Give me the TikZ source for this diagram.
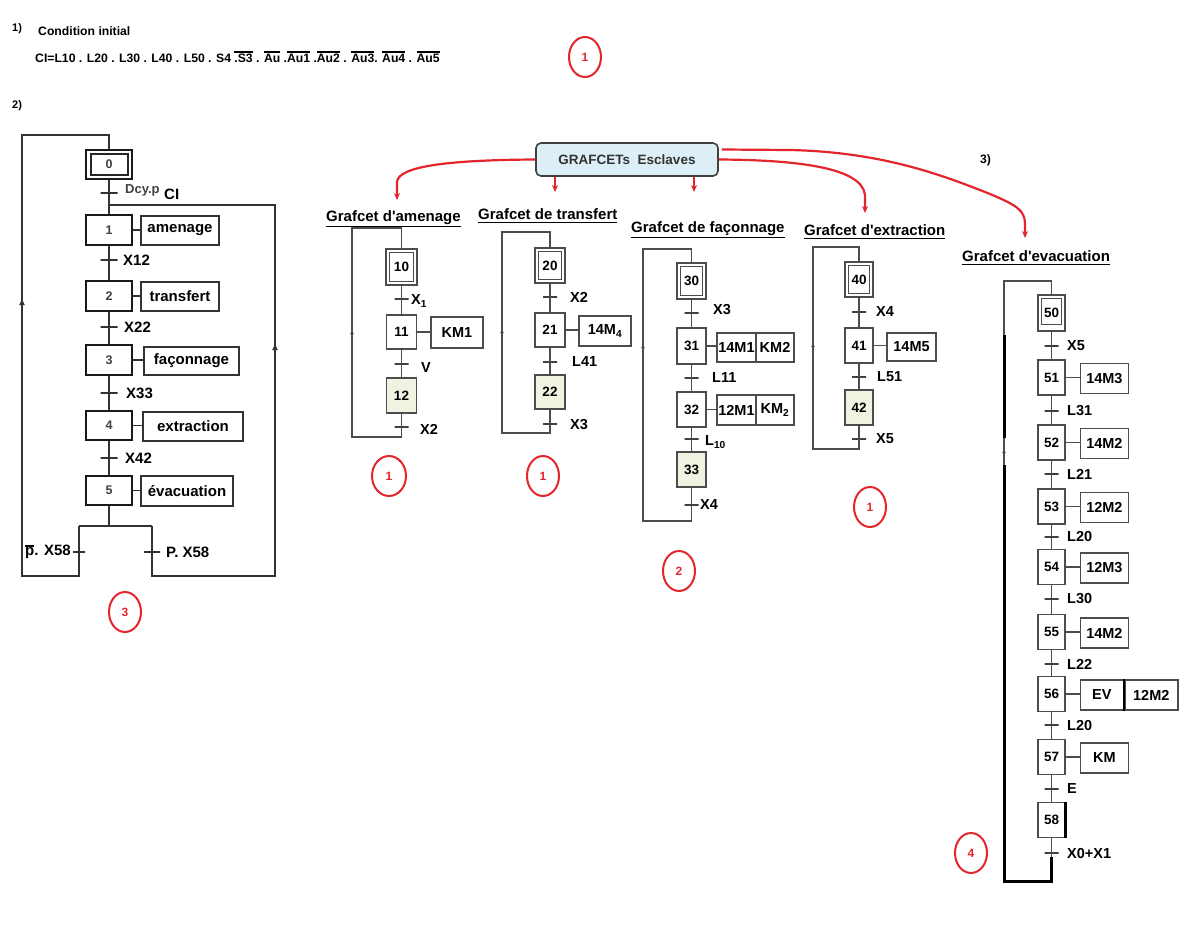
\documentclass[tikz,border=0pt]{standalone}
\usepackage{fontspec}
\setmainfont{Liberation Sans}
\usetikzlibrary{shapes.geometric,arrows.meta,calc}
\definecolor{redc}{HTML}{E3262E}
\definecolor{lgreen}{HTML}{EEF3E2}
\definecolor{lblue}{HTML}{DCEEF6}
\newcommand\ovl[1]{\leavevmode\vbox{\hrule height 1.6pt\kern1.4pt\hbox{#1}}}
\newcommand\ulin[1]{\leavevmode\vtop{\hbox{#1}\kern1.5pt\hrule height 1.3pt}}
\begin{document}
\begin{tikzpicture}[x=1pt,y=-1pt,
  txt/.style={font=\bfseries\fontsize{14.5}{16}\selectfont, inner sep=0pt},
  lbl/.style={txt, anchor=west},
  mlbl/.style={lbl, font=\bfseries\fontsize{15}{17}\selectfont},
  hlbl/.style={lbl, font=\bfseries\fontsize{12.2}{14}\selectfont},
  tlbl/.style={lbl, font=\bfseries\fontsize{15}{17}\selectfont},
  mstep/.style={draw=black!90, line width=2.2pt, fill=white, inner sep=0pt, minimum width=46pt, minimum height=30pt, font=\bfseries\fontsize{12.5}{14}\selectfont, text=black!75},
  mact/.style={draw=black!80, line width=1.4pt, fill=white, inner sep=0pt, minimum height=29pt, font=\bfseries\fontsize{15}{17}\selectfont},
  mline/.style={draw=black!80, line width=1.5pt},
  mtr/.style={draw=black!80, line width=1.5pt, rectangle, minimum width=17pt, minimum height=0pt, inner sep=0pt},
  sstep/.style={draw=black!70, line width=1.4pt, fill=white, inner sep=0pt, minimum width=30pt, minimum height=35pt, font=\bfseries\fontsize{13.5}{15}\selectfont},
  gstep/.style={sstep, fill=lgreen},
  sact/.style={draw=black!70, line width=1.4pt, fill=white, inner sep=0pt, minimum height=30pt, font=\bfseries\fontsize{14.5}{16}\selectfont},
  sline/.style={draw=black!70, line width=1.4pt},
  thick3/.style={draw=black, line width=3pt},
  str/.style={draw=black!75, line width=1.5pt, rectangle, minimum width=14pt, minimum height=0pt, inner sep=0pt},
  innerbox/.style={draw=black!70, line width=1.3pt},
  redarr/.style={draw=redc, line width=2.2pt, -{Stealth[length=7pt,width=6pt]}},
  rcirc/.style={ellipse, draw=redc, line width=2pt, minimum width=32pt, minimum height=40pt, inner sep=0pt, text=redc, font=\bfseries\fontsize{12}{14}\selectfont},
  uparr/.style={-{Latex[length=7pt,width=6pt]}},
  suparr/.style={-{Latex[length=4pt,width=4pt]}},
]
\useasboundingbox[fill=white] (0,0) rectangle (1199,926);

% ---------- header ----------
\node[hlbl, font=\bfseries\fontsize{11}{13}\selectfont] (n1) at (12,29) {1)};
\node[hlbl] (cond) at (38,31) {Condition initial};
\node[hlbl] (ci) at (35,57) {CI=L10 . L20 . L30 . L40 . L50 . S4 \ovl{.S3} . \ovl{Au} .\ovl{Au1} .\ovl{Au2} . \ovl{Au3}. \ovl{Au4} . \ovl{Au5}};
\node[rcirc] (r1) at (585,57) {1};
\node[hlbl, font=\bfseries\fontsize{11}{13}\selectfont] (n2) at (12,106) {2)};

% ---------- master grafcet ----------
\node[mstep, minimum height=29pt] (s0) at (109,164.5) {0};
\draw[innerbox, draw=black!85] ($(s0.north west)+(6,5)$) rectangle ($(s0.south east)+(-5,-5)$);
\node[mtr] (t0) at (109,193) {};
\node[lbl, text=black!75, font=\bfseries\fontsize{13}{15}\selectfont] (l0) at (125,190) {Dcy.p};
\node[mlbl] (l0b) at (164,194) {CI};
\coordinate (j1) at (109,205);
\node[mstep] (s1) at (109,230) {1};
\node[mact, minimum width=78pt] (a1) at (180,230.5) {amenage};
\node[mtr] (t1) at (109,260) {};
\node[mlbl] (l1) at (123,260) {X12};
\node[mstep] (s2) at (109,296) {2};
\node[mact, minimum width=78pt] (a2) at (180,296.5) {transfert};
\node[mtr] (t2) at (109,327) {};
\node[mlbl] (l2) at (124,327) {X22};
\node[mstep] (s3) at (109,360) {3};
\node[mact, minimum width=95pt, minimum height=28pt] (a3) at (191.5,361) {façonnage};
\node[mtr] (t3) at (109,393) {};
\node[mlbl] (l3) at (126,393) {X33};
\node[mstep, minimum height=29pt] (s4) at (109,425.5) {4};
\node[mact, minimum width=100pt] (a4) at (193,426.5) {extraction};
\node[mtr] (t4) at (109,458) {};
\node[mlbl] (l4) at (125,458) {X42};
\node[mstep, minimum height=29pt] (s5) at (109,490.5) {5};
\node[mact, minimum width=92pt, minimum height=30pt] (a5) at (187,491) {évacuation};
\coordinate (dv) at (109,526);
\coordinate (dvL) at (79,526);
\coordinate (dvR) at (152,526);
\node[mtr, minimum width=12pt] (tL) at (79,552) {};
\node[mtr, minimum width=16pt] (tR) at (152,552) {};
\node[mlbl, anchor=east] (lL) at (71,552) {\ovl{p}. X58};
\node[mlbl] (lR) at (166,552) {P. X58};

\draw[mline] (s0) -- (s1);
\draw[mline] (s1) -- (s2);
\draw[mline] (s2) -- (s3);
\draw[mline] (s3) -- (s4);
\draw[mline] (s4) -- (s5);
\draw[mline] (s5) -- (dv);
\draw[mline] (dvL) -- (dvR);
\draw[mline] (dvL) -- (tL.center) -- (79,576) -- (22,576) -- (22,135) -- (109,135) -- (s0);
\draw[mline] (dvR) -- (tR.center) -- (152,576) -- (275,576) -- (275,205) -- (j1);
\draw[mline, uparr] (22,312) -- (22,298);
\draw[mline, uparr] (275,357) -- (275,343);
\foreach \s/\a in {s1/a1,s2/a2,s3/a3,s4/a4,s5/a5}{
  \draw[mline] (\s.east) -- (\s.east -| \a.west);
}
\node[rcirc] (r3) at (125,612) {3};

% ---------- slaves header ----------
\node[draw=black!75, line width=1.6pt, rounded corners=5pt, fill=lblue, minimum width=182pt, minimum height=33pt, inner sep=0pt, text=black!80, font=\bfseries\fontsize{13.5}{15}\selectfont] (gb) at (627,159.5) {GRAFCETs\ \ Esclaves};
\node[hlbl] (n3) at (980,160) {3)};
\coordinate (e1) at (397,200);
\coordinate (e2) at (555,192);
\coordinate (e3) at (694,192);
\coordinate (e4) at (865,213);
\coordinate (e5) at (1025,238);
\draw[redarr] (gb.west) .. controls (450,160) and (398,166) .. (397,182) -- (e1);
\draw[redarr] ([xshift=-72pt]gb.south) -- (e2);
\draw[redarr] ([xshift=67pt]gb.south) -- (e3);
\draw[redarr] (gb.east) .. controls (800,160) and (862,168) .. (865,195) -- (e4);
\draw[redarr] ($(gb.east)+(3,-10)$) -- (790,150) .. controls (880,152) and (940,174) .. (990,194) .. controls (1016,205) and (1025,210) .. (1025,224) -- (e5);

% ---------- titles ----------
\node[tlbl] (ti1) at (326,219) {\ulin{Grafcet d\textquotesingle amenage}};
\node[tlbl] (ti2) at (478,216) {\ulin{Grafcet de transfert}};
\node[tlbl] (ti3) at (631,230) {\ulin{Grafcet de façonnage}};
\node[tlbl] (ti4) at (804,232) {\ulin{Grafcet d\textquotesingle extraction}};
\node[tlbl] (ti5) at (962,258) {\ulin{Grafcet d\textquotesingle evacuation}};

% ---------- grafcet d'amenage ----------
\node[sstep, minimum width=31pt, minimum height=36pt] (s10) at (401.5,267) {10};
\draw[innerbox] ($(s10.north west)+(4,4)$) rectangle ($(s10.south east)+(-4,-4)$);
\node[str] (t10) at (401.5,299) {};
\node[lbl] (l10) at (411,301) {X\textsubscript{1}};
\node[sstep, minimum height=34pt] (s11) at (401.5,332) {11};
\node[sact, minimum width=52pt, minimum height=31pt] (a11) at (457,332.5) {KM1};
\node[str] (t11) at (401.5,364) {};
\node[lbl] (l11) at (421,368) {V};
\node[gstep] (s12) at (401.5,395.5) {12};
\node[str] (t12) at (401.5,427) {};
\node[lbl] (l12) at (420,429) {X2};
\draw[sline] (s10) -- (s11);
\draw[sline] (s11) -- (s12);
\draw[sline] (s11.east) -- (s11.east -| a11.west);
\draw[sline] (s12) -- (401.5,437) -- (352,437) -- (352,228) -- (401.5,228) -- (s10);
\draw[sline, suparr] (352,338) -- (352,330);
\node[rcirc, minimum width=34pt] (r1a) at (389,476) {1};

% ---------- grafcet de transfert ----------
\node[sstep, minimum height=35pt] (s20) at (550,265.5) {20};
\draw[innerbox] ($(s20.north west)+(4,4)$) rectangle ($(s20.south east)+(-4,-4)$);
\node[str] (t20) at (550,297) {};
\node[lbl] (l20) at (570,297) {X2};
\node[sstep, minimum height=34pt] (s21) at (550,330) {21};
\node[sact, minimum width=52pt] (a21) at (605,331) {14M\textsubscript{4}};
\node[str] (t21) at (550,362) {};
\node[lbl] (l21) at (572,362) {L41};
\node[gstep, minimum height=34pt] (s22) at (550,392) {22};
\node[str] (t22) at (550,424) {};
\node[lbl] (l22) at (570,425) {X3};
\draw[sline] (s20) -- (s21);
\draw[sline] (s21) -- (s22);
\draw[sline] (s21.east) -- (s21.east -| a21.west);
\draw[sline] (s22) -- (550,433) -- (502,433) -- (502,232) -- (550,232) -- (s20);
\draw[sline, suparr] (502,337) -- (502,329);
\node[rcirc] (r1b) at (543,476) {1};

% ---------- grafcet de façonnage ----------
\node[sstep, minimum width=29pt, minimum height=36pt] (s30) at (691.5,281) {30};
\draw[innerbox] ($(s30.north west)+(4,4)$) rectangle ($(s30.south east)+(-4,-4)$);
\node[str] (t30) at (691.5,313) {};
\node[lbl] (l30) at (713,310) {X3};
\node[sstep, minimum width=29pt, minimum height=36pt] (s31) at (691.5,346) {31};
\node[sact, minimum width=39pt, minimum height=29pt] (a31a) at (736.5,347.5) {14M1};
\node[sact, minimum width=38pt, minimum height=29pt] (a31b) at (775,347.5) {KM2};
\node[str] (t31) at (691.5,378) {};
\node[lbl] (l31) at (712,378) {L11};
\node[sstep, minimum width=29pt] (s32) at (691.5,409.5) {32};
\node[sact, minimum width=39pt] (a32a) at (736.5,410) {12M1};
\node[sact, minimum width=38pt] (a32b) at (775,410) {KM\textsubscript{2}};
\node[str] (t32) at (691.5,439) {};
\node[lbl] (l32) at (705,442) {L\textsubscript{10}};
\node[gstep, minimum width=29pt] (s33) at (691.5,469.5) {33};
\node[str] (t33) at (691.5,505) {};
\node[lbl] (l33) at (700,505) {X4};
\draw[sline] (s30) -- (s31);
\draw[sline] (s31) -- (s32);
\draw[sline] (s32) -- (s33);
\draw[sline] (s31.east) -- (s31.east -| a31a.west);
\draw[sline] (s32.east) -- (s32.east -| a32a.west);
\draw[sline] (s33) -- (691.5,521) -- (643,521) -- (643,249) -- (691.5,249) -- (s30);
\draw[sline, suparr] (643,352) -- (643,344);
\node[rcirc] (r2) at (679,571) {2};

% ---------- grafcet d'extraction ----------
\node[sstep, minimum width=28pt] (s40) at (859,279.5) {40};
\draw[innerbox] ($(s40.north west)+(4,4)$) rectangle ($(s40.south east)+(-4,-4)$);
\node[str] (t40) at (859,312) {};
\node[lbl] (l40) at (876,312) {X4};
\node[sstep, minimum width=28pt] (s41) at (859,345.5) {41};
\node[sact, minimum width=49pt, minimum height=28pt] (a41) at (911.5,347) {14M5};
\node[str] (t41) at (859,377) {};
\node[lbl] (l41) at (877,377) {L51};
\node[gstep, minimum width=28pt] (s42) at (859,407.5) {42};
\node[str] (t42) at (859,439) {};
\node[lbl] (l42) at (876,439) {X5};
\draw[sline] (s40) -- (s41);
\draw[sline] (s41) -- (s42);
\draw[sline] (s41.east) -- (s41.east -| a41.west);
\draw[sline] (s42) -- (859,449) -- (813,449) -- (813,247) -- (859,247) -- (s40);
\draw[sline, suparr] (813,351) -- (813,343);
\node[rcirc] (r1c) at (870,507) {1};

% ---------- grafcet d'evacuation ----------
\node[sstep, minimum width=27pt, minimum height=36pt] (s50) at (1051.5,313) {50};
\draw[innerbox] ($(s50.north west)+(4,4)$) rectangle ($(s50.south east)+(-4,-7)$);
\foreach \n/\y in {51/377.5,52/442.5,53/506.5,54/567,55/632,56/694,57/757,58/820}{
  \node[sstep, minimum width=27pt] (s\n) at (1051.5,\y) {\n};
}
\foreach \a/\b in {50/51,51/52,52/53,53/54,54/55,55/56,56/57,57/58}{
  \draw[sline] (s\a) -- (s\b);
}
\foreach \n/\y/\t in {50/346/X5,51/411/L31,52/474/L21,53/537/L20,54/599/L30,55/664/L22,56/725/L20,57/789/E,58/853/X0+X1}{
  \node[str] (t\n) at (1051.5,\y) {};
  \node[lbl] (l\n) at (1067,\y) {\t};
}
\foreach \n/\t in {51/14M3,52/14M2,53/12M2,54/12M3,55/14M2,57/KM}{
  \node[sact, minimum width=48pt, anchor=west] (a\n) at ($(s\n.east)+(14,1)$) {\t};
  \draw[sline] (s\n.east) -- (s\n.east -| a\n.west);
}
\node[sact, minimum width=43pt, anchor=west] (a56a) at ($(s56.east)+(14,1)$) {EV};
\node[sact, minimum width=53pt, anchor=west] (a56b) at (a56a.east) {12M2};
\draw[line width=2.5pt] (a56a.north east) -- (a56a.south east);
\draw[sline] (s56.east) -- (s56.east -| a56a.west);
\draw[line width=2.5pt] (s58.north east) -- (s58.south east);
\coordinate (lb) at (1051.5,857);
\draw[sline] (s58) -- (lb);
\draw[thick3] (lb) -- (1051.5,881) -- (1004,881) -- (1004,465);
\draw[sline] (1004,465) -- (1004,438);
\draw[sline, suparr] (1004,457) -- (1004,449);
\draw[thick3] (1004,438) -- (1004,335);
\draw[sline] (1004,335) -- (1004,281) -- (1051.5,281) -- (s50);
\node[rcirc] (r4) at (971,853) {4};
\end{tikzpicture}
\end{document}
